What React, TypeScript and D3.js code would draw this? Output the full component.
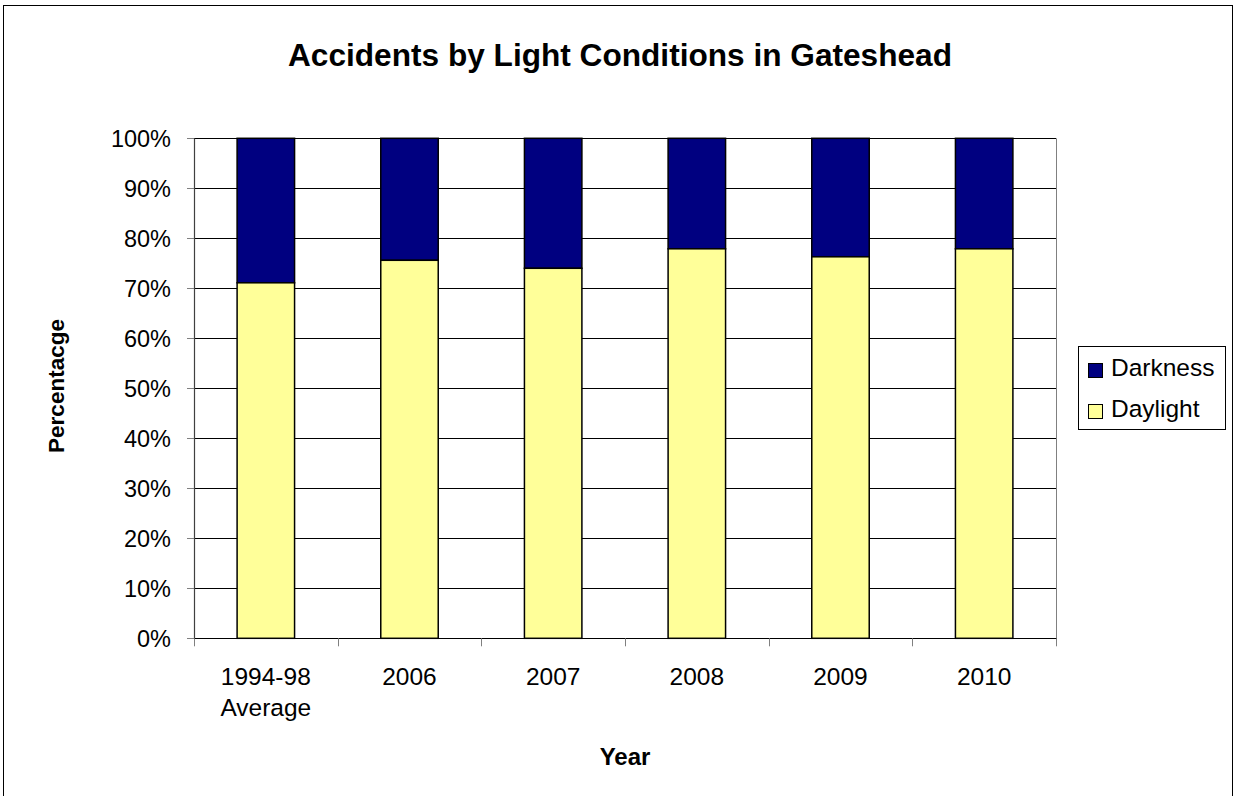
import React from "react";
import * as d3 from "d3";

const categories: string[][] = [["1994-98", "Average"], ["2006"], ["2007"], ["2008"], ["2009"], ["2010"]];
const daylight: number[] = [71.1, 75.6, 74.0, 77.9, 76.3, 77.9];
const darkness: number[] = daylight.map((v) => 100 - v);
const yTicks: number[] = [0, 10, 20, 30, 40, 50, 60, 70, 80, 90, 100];
const seriesNames = ["Darkness", "Daylight"];
const seriesColors = ["#000080", "#FFFF99"];

const W = 1235, H = 796;
const plot = { left: 194, right: 1056, top: 138.3, bottom: 638.3 };
const FONT = "'Liberation Sans', Arial, sans-serif";

export default function App() {
  const x = d3.scaleBand<number>().domain(d3.range(categories.length)).range([plot.left, plot.right]).paddingInner(0).paddingOuter(0);
  const y = d3.scaleLinear().domain([0, 100]).range([plot.bottom, plot.top]);
  const bw = x.bandwidth() * 0.4;
  const boundaries = d3.range(categories.length + 1).map((i) => plot.left + i * x.step());

  return (
    <svg width={W} height={H} style={{ position: "absolute", left: 0, top: 0, background: "#fff" }} fontFamily={FONT}>
      <rect x={3.5} y={5.5} width={1229} height={H + 20} fill="#fff" stroke="#000" strokeWidth={1} />
      <text x={620} y={66} textAnchor="middle" fontSize={31} fontWeight="bold" textLength={664} lengthAdjust="spacingAndGlyphs">
        Accidents by Light Conditions in Gateshead
      </text>
      {/* gridlines */}
      {yTicks.map((t) => (
        <line key={"g" + t} x1={plot.left} x2={plot.right} y1={Math.round(y(t)) + 0.5} y2={Math.round(y(t)) + 0.5} stroke="#000" strokeWidth={1} />
      ))}
      {/* right plot border */}
      <line x1={plot.right + 0.5} x2={plot.right + 0.5} y1={plot.top} y2={plot.bottom} stroke="#808080" strokeWidth={1} />
      {/* bars */}
      {daylight.map((v, i) => {
        const x0 = (x(i) as number) + (x.bandwidth() - bw) / 2;
        return (
          <g key={"b" + i}>
            <rect x={x0} y={y(100)} width={bw} height={y(v) - y(100)} fill={seriesColors[0]} stroke="#000" strokeWidth={1.5} />
            <rect x={x0} y={y(v)} width={bw} height={y(0) - y(v)} fill={seriesColors[1]} stroke="#000" strokeWidth={1.5} />
          </g>
        );
      })}
      {/* axes */}
      <line x1={plot.left + 0.5} x2={plot.left + 0.5} y1={plot.top} y2={plot.bottom} stroke="#404040" strokeWidth={1.2} />
      <line x1={plot.left - 7} x2={plot.right + 1} y1={Math.round(plot.bottom) + 0.5} y2={Math.round(plot.bottom) + 0.5} stroke="#000" strokeWidth={1.2} />
      {yTicks.map((t) => (
        <g key={"yt" + t}>
          <line x1={plot.left - 7} x2={plot.left} y1={Math.round(y(t)) + 0.5} y2={Math.round(y(t)) + 0.5} stroke="#808080" />
          <text x={171} y={y(t)} dy="0.36em" textAnchor="end" fontSize={23.5}>{t}%</text>
        </g>
      ))}
      {boundaries.map((b, i) => (
        <line key={"xt" + i} x1={Math.round(b) + 0.5} x2={Math.round(b) + 0.5} y1={plot.bottom} y2={plot.bottom + 8} stroke="#808080" />
      ))}
      {categories.map((lines, i) => (
        <text key={"xl" + i} x={(x(i) as number) + x.bandwidth() / 2} y={685} textAnchor="middle" fontSize={24.5}>
          {lines.map((l, j) => (
            <tspan key={j} x={(x(i) as number) + x.bandwidth() / 2} dy={j === 0 ? 0 : 31}>{l}</tspan>
          ))}
        </text>
      ))}
      <text x={625} y={765} textAnchor="middle" fontSize={24} fontWeight="bold">Year</text>
      <text transform="translate(64,386) rotate(-90)" textAnchor="middle" fontSize={22.5} fontWeight="bold">Percentacge</text>
      {/* legend */}
      <rect x={1078.5} y={346.5} width={147} height={83} fill="#fff" stroke="#000" strokeWidth={1} />
      {seriesNames.map((n, i) => (
        <g key={"lg" + i}>
          <rect x={1088.5} y={363.5 + i * 41} width={14} height={14} fill={seriesColors[i]} stroke="#000" strokeWidth={1} />
          <text x={1111} y={376 + i * 41} fontSize={24.5}>{n}</text>
        </g>
      ))}
    </svg>
  );
}
